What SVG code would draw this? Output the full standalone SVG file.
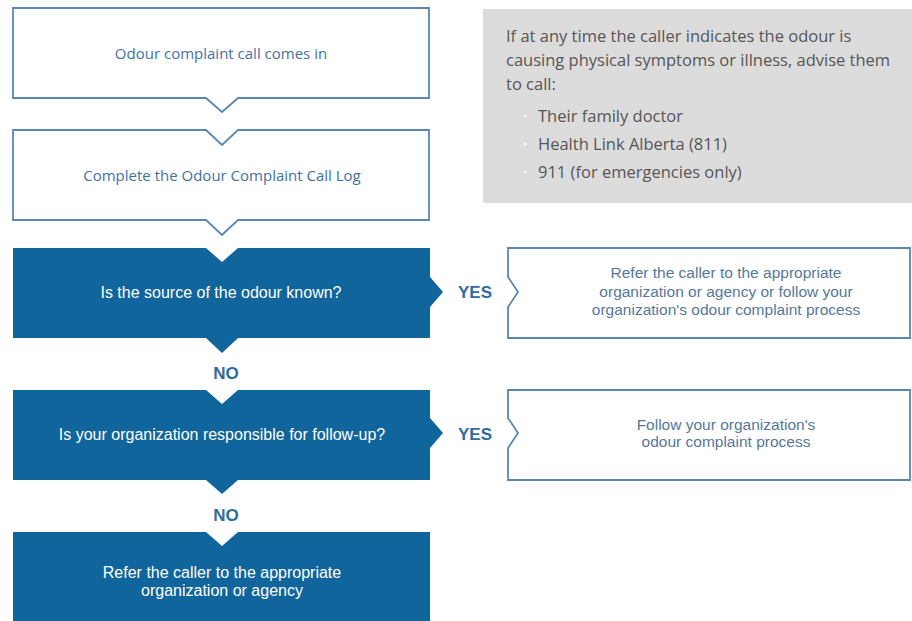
<svg xmlns="http://www.w3.org/2000/svg" width="912" height="621" viewBox="0 0 912 621">
<style>
.wbox{fill:#ffffff;stroke:#5a86b2;stroke-width:1.8;stroke-linejoin:miter}
.bbox{fill:#10659c;stroke:none}
.wt{font-family:"Open Sans","Liberation Sans",sans-serif;font-size:15px;fill:#3f72a5;text-anchor:middle}
.bt{font-family:"Liberation Sans",Arial,sans-serif;font-size:16px;fill:#ffffff;text-anchor:middle}
.rt{font-family:"Liberation Sans",Arial,sans-serif;font-size:15.5px;fill:#56789c;text-anchor:middle}
.lbl{font-family:"Liberation Sans",Arial,sans-serif;font-size:17px;font-weight:bold;fill:#2f6b9f;text-anchor:middle}
.gt{font-family:"Open Sans","Liberation Sans",sans-serif;font-size:16.5px;fill:#555555}
.dot{fill:#f4f4f4}
</style>
<rect width="912" height="621" fill="#ffffff"/>

<g id="note">
<rect x="483" y="9" width="429" height="194" fill="#dcdcdc"/>
<text class="gt" x="506" y="42">If at any time the caller indicates the odour is</text>
<text class="gt" x="506" y="66">causing physical symptoms or illness, advise them</text>
<text class="gt" x="506" y="90">to call:</text>
<circle class="dot" cx="525" cy="116" r="1.6"/>
<text class="gt" x="538" y="122">Their family doctor</text>
<circle class="dot" cx="525" cy="144" r="1.6"/>
<text class="gt" x="538" y="150">Health Link Alberta (811)</text>
<circle class="dot" cx="525" cy="172" r="1.6"/>
<text class="gt" x="538" y="178">911 (for emergencies only)</text>
</g>

<g id="call-comes-in">
<path class="wbox" d="M13,8 H429 V98 H238 L222,112 L206,98 H13 Z"/>
<text class="wt" x="221" y="59">Odour complaint call comes in</text>
</g>

<g id="complete-log">
<path class="wbox" d="M13,130 H206 L222,145 L238,130 H429 V220 H238 L222,235 L206,220 H13 Z"/>
<text class="wt" x="222" y="181">Complete the Odour Complaint Call Log</text>
</g>

<g id="source-known">
<path class="bbox" d="M13,248 H206 L222,262 L238,248 H430 V277 L443,292 L430,307 V338 H238 L222,353 L206,338 H13 Z"/>
<text class="bt" x="221" y="298">Is the source of the odour known?</text>
</g>

<g id="refer-or-follow">
<path class="wbox" d="M508,248 H910 V338 H508 V307 L518,292 L508,277 Z"/>
<text class="rt" x="726" y="278">Refer the caller to the appropriate</text>
<text class="rt" x="726" y="297">organization or agency or follow your</text>
<text class="rt" x="726" y="315">organization's odour complaint process</text>
</g>

<g id="responsible">
<path class="bbox" d="M13,390 H206 L222,404 L238,390 H430 V418 L443,433 L430,448 V480 H238 L222,494 L206,480 H13 Z"/>
<text class="bt" x="222" y="440">Is your organization responsible for follow-up?</text>
</g>

<g id="follow-process">
<path class="wbox" d="M508,390 H910 V480 H508 V448 L518,433 L508,418 Z"/>
<text class="rt" x="726" y="430">Follow your organization's</text>
<text class="rt" x="726" y="447">odour complaint process</text>
</g>

<g id="refer-caller">
<path class="bbox" d="M13,532 H206 L222,546 L238,532 H430 V625 H13 Z"/>
<text class="bt" x="222" y="578">Refer the caller to the appropriate</text>
<text class="bt" x="222" y="596">organization or agency</text>
</g>

<g id="connectors">
<text class="lbl" x="475" y="298">YES</text>
<text class="lbl" x="226" y="379">NO</text>
<text class="lbl" x="475" y="440">YES</text>
<text class="lbl" x="226" y="521">NO</text>
</g>
</svg>
